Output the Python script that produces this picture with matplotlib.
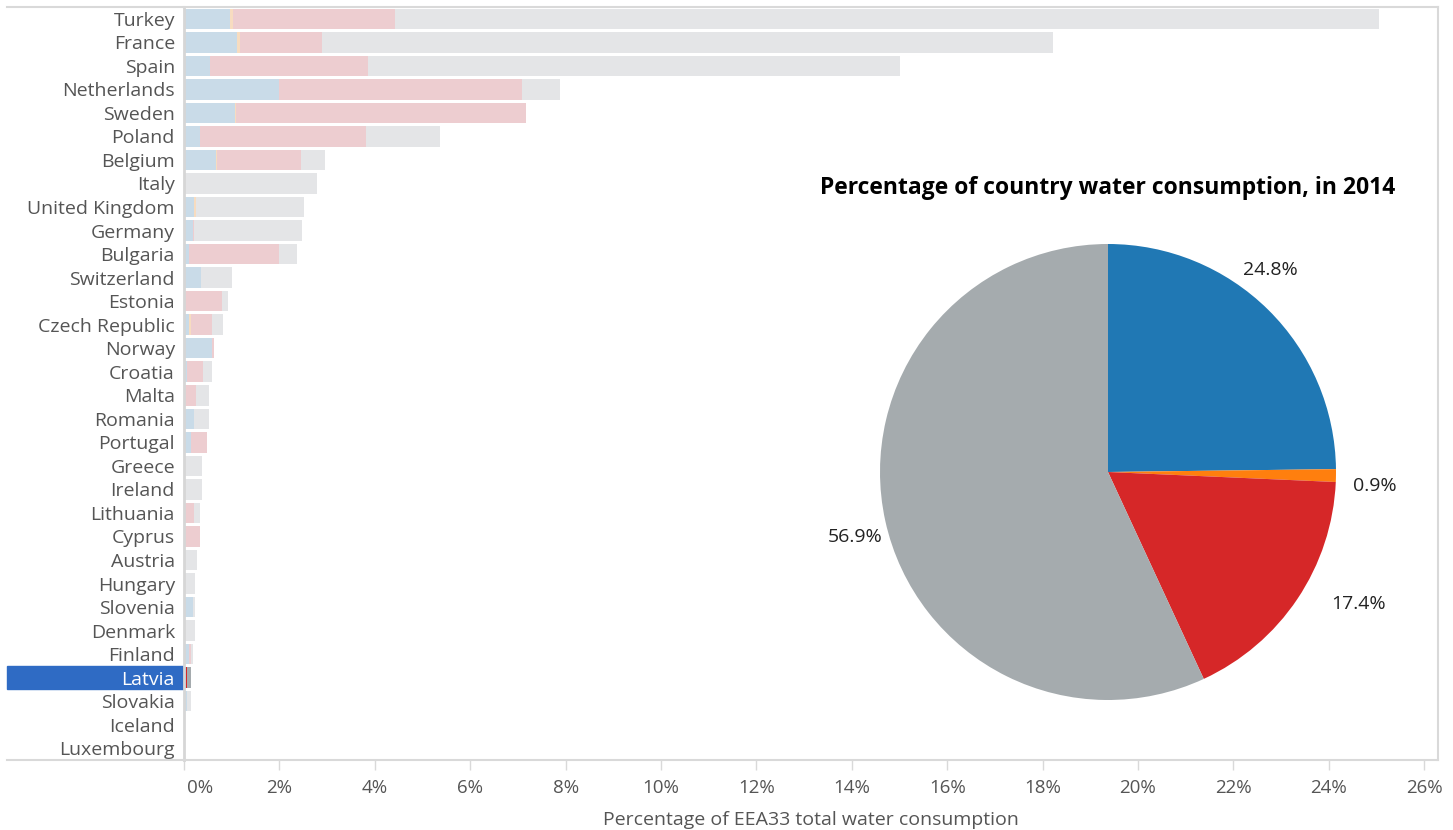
import matplotlib
matplotlib.use("Agg")
import matplotlib.pyplot as plt
from matplotlib.lines import Line2D
from matplotlib.patches import Rectangle
from matplotlib.transforms import ScaledTranslation

plt.rcParams['font.family'] = ['Open Sans', 'DejaVu Sans']

countries = ["Turkey", "France", "Spain", "Netherlands", "Sweden", "Poland", "Belgium",
             "Italy", "United Kingdom", "Germany", "Bulgaria", "Switzerland", "Estonia",
             "Czech Republic", "Norway", "Croatia", "Malta", "Romania", "Portugal",
             "Greece", "Ireland", "Lithuania", "Cyprus", "Austria", "Hungary", "Slovenia",
             "Denmark", "Finland", "Latvia", "Slovakia", "Iceland", "Luxembourg"]

# share of EEA33 total water consumption (%), split by sector
blue = [0.97, 1.11, 0.55, 2.00, 1.07, 0.34, 0.67, 0.00, 0.22, 0.19, 0.10, 0.36, 0.00,
        0.10, 0.59, 0.06, 0.00, 0.21, 0.15, 0.00, 0.00, 0.03, 0.00, 0.00, 0.00, 0.19,
        0.00, 0.10, 0.037, 0.06, 0.00, 0.00]
orange = [0.06, 0.07, 0.00, 0.00, 0.03, 0.00, 0.03, 0.00, 0.03, 0.00, 0.00, 0.00, 0.00,
          0.04, 0.00, 0.00, 0.00, 0.00, 0.00, 0.00, 0.00, 0.00, 0.00, 0.00, 0.00, 0.00,
          0.00, 0.00, 0.001, 0.00, 0.00, 0.00]
red = [3.39, 1.72, 3.30, 5.08, 6.06, 3.48, 1.76, 0.00, 0.00, 0.03, 1.90, 0.00, 0.80,
       0.45, 0.04, 0.34, 0.25, 0.00, 0.33, 0.00, 0.00, 0.18, 0.34, 0.00, 0.00, 0.00,
       0.03, 0.04, 0.026, 0.00, 0.00, 0.00]
gray = [20.63, 15.32, 11.16, 0.80, 0.00, 1.54, 0.49, 2.79, 2.27, 2.26, 0.37, 0.65, 0.12,
        0.23, 0.00, 0.19, 0.27, 0.31, 0.00, 0.38, 0.38, 0.13, 0.00, 0.27, 0.23, 0.04,
        0.20, 0.04, 0.085, 0.09, 0.03, 0.02]

selected = "Latvia"
pie_values = [24.8, 0.9, 17.4, 56.9]
pie_labels = ["24.8%", "0.9%", "17.4%", "56.9%"]

full_colors = ["#2078b4", "#ff7f0e", "#d62728", "#a5abae"]
faded_colors = ["#c9dbe8", "#f7dcc0", "#edcdd0", "#e4e5e7"]
frame_color = "#d9d9d9"
text_color = "#555555"
# nudges for pie labels (pixels, right / up)
label_nudge = [(-27, 11), (-2, -10), (27, 18), (10, -7)]

W, H = 1453, 830
fig = plt.figure(figsize=(W / 100, H / 100), dpi=100)

# bar chart
x0, x1, y0, y1 = 184, 1438, 7, 760
ax = fig.add_axes([x0 / W, 1 - y1 / H, (x1 - x0) / W, (y1 - y0) / H])
ypos = list(range(len(countries)))
left = [0.0] * len(countries)
for k, series in enumerate([blue, orange, red, gray]):
    cols = [full_colors[k] if c == selected else faded_colors[k] for c in countries]
    ax.barh(ypos, series, left=left, height=0.87, color=cols, linewidth=0)
    left = [a + b for a, b in zip(left, series)]

ax.set_xlim(0, 26.29)
ax.set_ylim(len(countries) - 0.5, -0.5)
ax.set_yticks(ypos)
ax.set_yticklabels(countries, fontsize=14, color=text_color)
ax.tick_params(axis="y", length=0, pad=6.5)
ax.set_xticks(range(0, 27, 2))
ax.set_xticklabels([f"{v}%" for v in range(0, 27, 2)], fontsize=13.5, color=text_color)
ax.tick_params(axis="x", length=7, width=1, color=frame_color, pad=7)
ax.xaxis.get_majorticklabels()[0].set_transform(
    ax.xaxis.get_majorticklabels()[0].get_transform()
    + ScaledTranslation(0.16, 0, fig.dpi_scale_trans))
ax.set_xlabel("Percentage of EEA33 total water consumption", fontsize=14,
              color=text_color, labelpad=10)
for side in ["top", "right", "bottom"]:
    ax.spines[side].set_color(frame_color)
    ax.spines[side].set_linewidth(1.5)
ax.spines["left"].set_color("#d6d6d6")
ax.spines["left"].set_linewidth(2)

# extend frame lines under labels
for yy in (y0, y1):
    fig.add_artist(Line2D([7 / W, x0 / W], [1 - yy / H, 1 - yy / H],
                          color=frame_color, linewidth=1.5))

# highlight selected label
idx = countries.index(selected)
row_h = (y1 - y0) / len(countries)
ry = y0 + idx * row_h
fig.add_artist(Rectangle((7 / W, 1 - (ry + row_h) / H), (x0 - 1 - 7) / W, row_h / H,
                         transform=fig.transFigure, color="#2f6bc4", zorder=0))
for lab in ax.get_yticklabels():
    if lab.get_text() == selected:
        lab.set_color("white")

# pie chart
cx, cy, r = 1108, 472, 228
pax = fig.add_axes([(cx - r) / W, 1 - (cy + r) / H, 2 * r / W, 2 * r / H])
wedges, texts = pax.pie(pie_values, colors=full_colors, startangle=90, counterclock=False,
                        labels=pie_labels, labeldistance=1.18,
                        wedgeprops=dict(linewidth=0),
                        textprops=dict(fontsize=14, color="#222222"))
for t, (dx, dy) in zip(texts, label_nudge):
    t.set_horizontalalignment("center")
    t.set_transform(t.get_transform() + ScaledTranslation(dx / 100, dy / 100,
                                                          fig.dpi_scale_trans))
pax.set_xlim(-1, 1)
pax.set_ylim(-1, 1)
pax.set_aspect("equal")
fig.text(cx / W, 1 - 188 / H, "Percentage of country water consumption, in 2014",
         ha="center", va="center", fontsize=16.5, fontweight="bold", color="black")

fig.savefig("out.png", dpi=100)
